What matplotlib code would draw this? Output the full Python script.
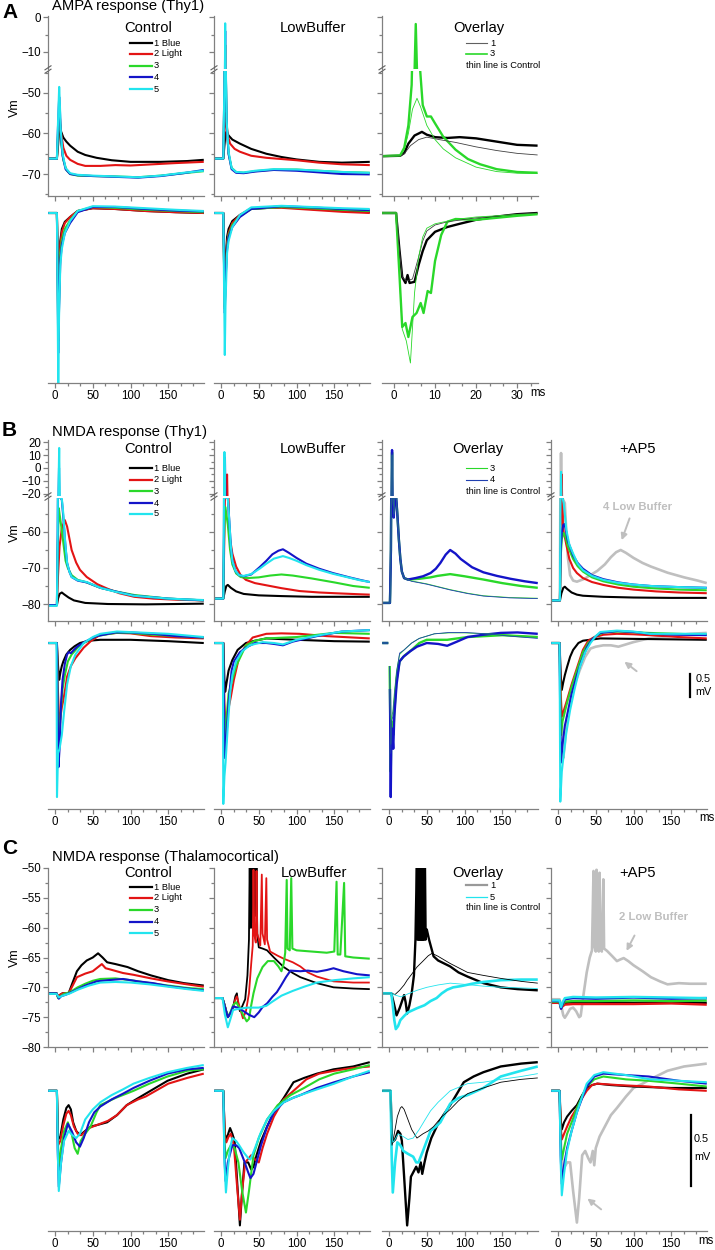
import numpy as np
import matplotlib
matplotlib.use('Agg')
import matplotlib.pyplot as plt
from matplotlib.lines import Line2D
from matplotlib.ticker import MultipleLocator

plt.rcParams['font.family'] = ['Liberation Sans', 'DejaVu Sans']

nan = np.nan

# ---------------- A: AMPA response (Thy1) ----------------
# top row, Vm (ms, mV)
a_ctl_1 = [(-9, -66.2), (2.5, -66.2), (4, -63), (5.5, -59), (6.5, -57.5), (8, -59.5), (11, -61), (15, -62), (20, -63), (30, -64.5), (40, -65.3), (55, -66), (75, -66.6), (100, -67), (140, -67), (175, -66.8), (197, -66.5)]
a_ctl_2 = [(-9, -66.2), (2.5, -66.2), (4, -61), (5.5, -56.5), (6.5, -56), (8, -60), (11, -63.5), (15, -65.5), (20, -66.5), (30, -67.5), (40, -68), (60, -68), (80, -67.8), (100, -67.9), (130, -67.6), (160, -67.3), (197, -67)]
a_ctl_3 = [(-9, -66.2), (2.5, -66.2), (4, -60), (5.5, -56), (6.5, -57), (8, -62), (11, -66.5), (15, -69), (20, -70), (30, -70.4), (50, -70.5), (80, -70.6), (110, -70.8), (140, -70.4), (170, -69.8), (197, -69.3)]
a_ctl_4 = [(-9, -66.2), (2.5, -66.2), (4, -58), (5.5, -51), (6.3, -53), (7.5, -60), (10, -65.5), (14, -68.8), (20, -70), (30, -70.3), (50, -70.5), (80, -70.7), (110, -70.9), (140, -70.5), (170, -69.8), (197, -69)]
a_ctl_5 = [(-9, -66.2), (2.5, -66.2), (4, -57), (5.5, -48.5), (6.3, -52), (7.5, -59), (10, -65), (14, -68.5), (20, -69.8), (30, -70.2), (50, -70.4), (80, -70.6), (110, -70.8), (140, -70.4), (170, -69.7), (197, -69.2)]

a_lb_1 = [(-9, -66.2), (3, -66.2), (4.5, -63), (6, -60), (7.5, -59.5), (10, -60.5), (15, -61.5), (25, -62.5), (40, -63.8), (60, -65), (80, -65.8), (100, -66.4), (130, -67), (160, -67.2), (197, -67)]
a_lb_2 = [(-9, -66.2), (3, -66.2), (4.5, -60), (6, -55), (7, -57), (9, -60.5), (12, -62.5), (18, -63.8), (25, -64.5), (40, -65.5), (60, -66), (100, -66.6), (130, -67.2), (160, -67.6), (197, -67.8)]
a_lb_3 = [(-9, -66.2), (3, -66.2), (4.5, -50), (5.5, -8), (6.3, -45), (7.5, -58), (10, -65), (14, -68.5), (20, -69.5), (30, -69.7), (45, -69.3), (70, -68.9), (100, -68.9), (130, -69.2), (160, -69.5), (197, -69.7)]
a_lb_4 = [(-9, -66.2), (3, -66.2), (4.5, -48), (5.5, -4), (6.3, -44), (7.5, -58), (10, -65), (14, -68.8), (20, -69.7), (30, -69.8), (45, -69.4), (70, -69), (100, -69.2), (130, -69.6), (160, -70), (197, -70.1)]
a_lb_5 = [(-9, -66.2), (3, -66.2), (4.5, -47), (5.5, -1.8), (6.3, -43), (7.5, -57), (10, -64.5), (14, -68.5), (20, -69.5), (30, -69.6), (45, -69.2), (70, -68.8), (100, -68.9), (130, -69.2), (160, -69.5), (197, -69.7)]

a_ov_lb1 = [(-3, -65.6), (1.5, -65.5), (2.5, -64.8), (3.5, -62.5), (5, -60.5), (6.8, -59.6), (8, -60.3), (10, -60.9), (13, -61.1), (16, -60.9), (20, -61.2), (25, -62), (30, -62.8), (35, -63)]
a_ov_lb3 = [(-3, -65.6), (1.5, -65.4), (2.5, -63.5), (3.5, -58), (4.3, -48), (5.3, -2), (6.2, -42), (7, -53), (8, -55.8), (9, -55.8), (10, -57.5), (12, -60.8), (15, -64), (18, -66.3), (21, -67.6), (25, -68.8), (30, -69.5), (35, -69.7)]
a_ov_ct1 = [(-3, -65.6), (1.5, -65.5), (2.5, -65), (4, -63), (6, -61.5), (8, -60.9), (11, -61.5), (15, -62.2), (20, -63.3), (25, -64.2), (30, -64.9), (35, -65.3)]
a_ov_ct3 = [(-3, -65.6), (1.5, -65.5), (2.5, -64), (3.5, -60), (4.5, -54), (5.6, -51.3), (6.5, -53.5), (8, -58), (10, -61.5), (12, -63.8), (15, -66), (20, -68.3), (25, -69.4), (30, -69.8), (35, -69.9)]

# bottom row (arbitrary units, baseline 0)
a_ctl_s1 = [(-9, 0), (2.5, 0), (3.5, -1.2), (4.3, -2.3), (5.3, -1.6), (7, -0.7), (9, -0.4), (13, -0.22), (20, -0.1), (30, 0.05), (50, 0.12), (80, 0.1), (120, 0.05), (160, 0.02), (197, 0)]
a_ctl_s2 = [(-9, 0), (2.5, 0), (3.5, -1.4), (4.3, -2.8), (5.3, -1.9), (7, -0.8), (9, -0.48), (13, -0.25), (20, -0.1), (30, 0.05), (50, 0.12), (80, 0.1), (120, 0.05), (160, 0.02), (197, 0)]
a_ctl_s3 = [(-9, 0), (2.5, 0), (3.5, -1.6), (4.3, -3.2), (5.3, -2.2), (7, -1.0), (9, -0.68), (13, -0.4), (20, -0.18), (30, 0.05), (50, 0.15), (80, 0.13), (120, 0.08), (160, 0.05), (197, 0.02)]
a_ctl_s4 = [(-9, 0), (2.5, 0), (3.5, -1.8), (4.3, -3.5), (5.3, -2.4), (7, -1.2), (9, -0.8), (13, -0.5), (20, -0.25), (30, 0.02), (50, 0.15), (80, 0.15), (120, 0.1), (160, 0.06), (197, 0.04)]
a_ctl_s5 = [(-9, 0), (2.5, 0), (3.3, -2.0), (4.3, -4.3), (5.3, -2.6), (7, -1.3), (9, -0.9), (13, -0.5), (20, -0.2), (30, 0.05), (50, 0.17), (80, 0.16), (120, 0.12), (160, 0.08), (197, 0.05)]

a_lb_s1 = [(-9, 0), (3, 0), (4, -1.0), (5, -1.8), (6, -1.2), (8, -0.6), (10, -0.4), (15, -0.2), (25, -0.05), (40, 0.1), (80, 0.15), (120, 0.1), (160, 0.05), (197, 0.02)]
a_lb_s2 = [(-9, 0), (3, 0), (4, -1.2), (5, -2.35), (6, -1.5), (8, -0.75), (10, -0.5), (15, -0.25), (25, -0.05), (40, 0.12), (80, 0.13), (120, 0.08), (160, 0.03), (197, 0)]
a_lb_s3 = [(-9, 0), (3, 0), (4, -1.3), (5, -2.4), (6, -1.6), (8, -0.85), (10, -0.55), (15, -0.3), (25, -0.08), (40, 0.1), (80, 0.15), (120, 0.12), (160, 0.08), (197, 0.05)]
a_lb_s4 = [(-9, 0), (3, 0), (4, -1.3), (5, -2.5), (6, -1.7), (8, -0.9), (10, -0.6), (15, -0.35), (25, -0.1), (40, 0.1), (80, 0.17), (120, 0.14), (160, 0.1), (197, 0.07)]
a_lb_s5 = [(-9, 0), (3, 0), (4, -1.8), (5, -3.55), (6, -2.2), (8, -1.0), (10, -0.7), (15, -0.35), (25, -0.05), (40, 0.14), (80, 0.18), (120, 0.15), (160, 0.12), (197, 0.1)]

a_ov_lb_s1 = [(-3, 0), (0.5, 0), (1.3, -0.9), (2, -1.6), (2.8, -1.75), (3.3, -1.55), (3.8, -1.75), (5, -1.72), (6, -1.3), (7, -0.95), (8, -0.68), (10, -0.47), (13, -0.35), (16, -0.27), (20, -0.17), (25, -0.09), (30, -0.03), (35, 0)]
a_ov_ct_s1 = [(-3, 0), (0.5, 0), (1.3, -0.9), (2, -1.6), (3, -1.7), (4.5, -1.65), (6, -1.1), (7, -0.7), (8, -0.45), (10, -0.3), (13, -0.22), (20, -0.12), (30, -0.03), (35, 0)]
a_ov_lb_s3 = [(-3, 0), (0.5, 0), (1.3, -1.5), (2, -2.85), (2.8, -2.75), (3.5, -3.1), (4.5, -2.6), (5.5, -2.5), (6.5, -2.25), (7.2, -2.5), (8.2, -1.95), (9, -2.0), (10, -1.2), (11.5, -0.55), (13, -0.22), (15, -0.15), (20, -0.17), (25, -0.12), (30, -0.07), (35, -0.03)]
a_ov_ct_s3 = [(-3, 0), (0.5, 0), (1.3, -1.5), (2, -2.9), (3, -3.2), (4, -3.75), (5, -2.0), (6, -1.1), (7, -0.6), (8, -0.38), (10, -0.27), (15, -0.16), (20, -0.1), (30, -0.04), (35, -0.02)]

# ---------------- B: NMDA response (Thy1) ----------------
b_ctl_1 = [(-9, -80.3), (2.5, -80.3), (4, -78.5), (6, -77.2), (9, -76.8), (12, -77.3), (18, -78.2), (25, -79), (40, -79.7), (70, -80), (120, -80.1), (160, -80), (197, -79.9)]
b_ctl_2 = [(-9, -80.3), (2.5, -80.3), (4, -72), (6, -64), (9, -59), (13, -56.7), (16, -58.5), (22, -65), (28, -68.5), (33, -70.5), (42, -72.5), (56, -74.5), (70, -75.8), (85, -77), (105, -78), (130, -78.5), (160, -78.8), (197, -79)]
b_ctl_3 = [(-9, -80.3), (2.5, -80.3), (3.5, -65), (5, -53.4), (6, -55), (8, -58), (11, -63), (14, -68), (17, -70), (22, -72), (30, -73.3), (42, -74), (60, -75.5), (80, -76.5), (105, -77.5), (150, -78.5), (197, -79)]
b_ctl_4 = [(-9, -80.3), (2.5, -80.3), (3.5, -60), (4.5, -30), (5.3, 0), (6, -35), (7, -50.5), (9, -51), (11, -56), (14, -64.5), (16, -68.6), (19, -71), (22, -72.5), (30, -73.5), (42, -74), (60, -75.5), (80, -76.5), (105, -77.7), (150, -78.5), (197, -79)]
b_ctl_5 = [(-9, -80.5), (2.5, -80.5), (3.5, -60), (4.5, -20), (5.5, 15.4), (6.3, -20), (7, -50.5), (9, -50.8), (11, -55), (13.5, -63), (16, -68.6), (19, -71), (22, -72.5), (30, -73.4), (42, -73.9), (60, -75.5), (80, -76.6), (104, -77.7), (150, -78.5), (197, -78.9)]

b_lb_1 = [(-9, -78.5), (3, -78.5), (5, -76.5), (7, -75), (9, -74.7), (13, -75.5), (20, -76.5), (30, -77.2), (50, -77.6), (80, -77.8), (120, -78), (160, -78), (197, -78)]
b_lb_2 = [(-9, -78.5), (3, -78.5), (4.5, -60), (6.5, -30), (8, -5), (9, -35), (10.5, -58), (12, -62), (15, -66), (20, -69.6), (26, -72), (33, -73.3), (45, -74.2), (60, -74.8), (80, -75.6), (104, -76.4), (130, -76.8), (150, -77), (184, -77.3), (197, -77.4)]
b_lb_3 = [(-9, -78.5), (3, -78.5), (4, -62), (5.5, -53), (7, -55), (9, -58), (12, -65), (15, -69), (20, -71.5), (26, -72.5), (35, -72.8), (50, -72.6), (65, -72.1), (80, -71.8), (95, -72.1), (120, -72.9), (150, -74), (175, -75), (197, -75.5)]
b_lb_4 = [(-9, -78.5), (3, -78.5), (3.8, -60), (4.5, -20), (5.2, 8), (6, -30), (6.8, -50.5), (9, -50.5), (11, -57), (13, -64), (15, -68), (19, -70.8), (24, -72), (30, -72.3), (40, -71.8), (51, -69.8), (60, -68), (68, -66.2), (76, -65.2), (82, -64.8), (90, -65.8), (100, -67.2), (113, -68.8), (130, -70.2), (148, -71.4), (170, -72.6), (184, -73.3), (197, -73.9)]
b_lb_5 = [(-9, -78.5), (3, -78.5), (3.8, -55), (4.5, 12.3), (5.3, -30), (6, -50.5), (9, -50.6), (11, -57), (13, -64), (15, -68), (19, -70.8), (24, -72), (30, -72.2), (40, -71.7), (51, -70.2), (60, -68.8), (70, -67.4), (82, -66.7), (90, -67.2), (100, -68), (113, -69.2), (130, -70.5), (148, -71.6), (170, -72.7), (184, -73.4), (197, -73.9)]

b_ov_lb4 = [(-9, -79.7), (1.2, -79.7), (1.5, -77), (2.5, -65), (3.2, -40), (4, 13.8), (4.8, -40), (5.3, -50.5), (6.3, -56), (7.5, -50.5), (9.5, -50.5), (11, -55), (13, -62), (15, -67.5), (17, -71), (20, -72.8), (25, -73.2), (35, -72.8), (45, -72.3), (55, -71.4), (62, -70.2), (68, -68.6), (75, -66.3), (81, -65), (88, -66), (95, -67.5), (110, -69.8), (125, -71.2), (143, -72.2), (161, -73), (180, -73.7), (197, -74.2)]
b_ov_lb3 = [(-9, -79.7), (1.2, -79.7), (1.5, -77), (2.5, -65), (3.2, -40), (4, 12), (4.8, -40), (5.3, -50.5), (6.3, -55), (7.5, -50.5), (9.5, -50.5), (11, -55), (13, -62), (15, -67.5), (17, -71), (20, -72.8), (25, -73.2), (40, -73), (55, -72.6), (64, -72.2), (81, -71.7), (100, -72.3), (125, -73.2), (150, -74.2), (175, -75), (197, -75.5)]
b_ov_ct3 = [(-9, -79.7), (1.2, -79.7), (1.5, -77), (2.5, -65), (3.2, -40), (4, 10), (4.8, -40), (5.3, -50.5), (6.3, -55), (7.5, -50.5), (9.5, -50.5), (11, -55), (13, -62), (15, -67.5), (17, -71), (20, -72.8), (30, -73.6), (50, -74.4), (81, -76), (104, -77), (125, -77.7), (160, -78.2), (197, -78.4)]
b_ov_ct4 = [(-9, -79.7), (1.2, -79.7), (1.5, -77), (2.5, -65), (3.2, -40), (4, 11), (4.8, -40), (5.3, -50.5), (6.3, -56), (7.5, -50.5), (9.5, -50.5), (11, -55), (13, -62), (15, -67.5), (17, -71), (20, -72.9), (30, -73.7), (50, -74.5), (81, -76.1), (104, -77.1), (125, -77.8), (160, -78.3), (197, -78.5)]

b_ap5_lb4 = [(-9, -79), (2.5, -79), (3.3, -40), (4, 11.5), (4.8, -40), (5.5, -50.5), (9, -52), (11, -60), (13, -67), (16, -72), (20, -73.5), (25, -73.8), (35, -73), (45, -71.7), (52, -70.8), (62, -69), (70, -67), (77, -65.6), (83, -65), (90, -65.8), (100, -67.2), (112, -68.6), (123, -69.6), (145, -71.3), (167, -72.6), (185, -73.5), (197, -74.2)]
b_ap5_1 = [(-9, -79), (2.5, -79), (4.5, -77), (7, -75.5), (9, -75.2), (12, -75.8), (18, -76.8), (25, -77.4), (33, -77.7), (60, -78), (100, -78.2), (150, -78.3), (197, -78.3)]
b_ap5_2 = [(-9, -79), (2.5, -79), (3.5, -60), (4.5, -30), (5, -5), (5.6, -35), (6.5, -58), (8, -61), (9, -61.4), (11, -63.5), (15, -67.5), (20, -70), (25, -71.4), (33, -72.8), (45, -73.9), (60, -74.7), (80, -75.5), (100, -76), (130, -76.5), (160, -76.8), (197, -77)]
b_ap5_3 = [(-9, -79), (2.5, -79), (3.5, -67), (5, -62), (7, -60.3), (8.5, -60.5), (10, -61.5), (13, -64), (20, -67.5), (26, -69.5), (33, -71), (45, -72.6), (60, -73.7), (80, -74.6), (100, -75.2), (123, -75.6), (160, -76), (197, -76.2)]
b_ap5_4 = [(-9, -79), (2.5, -79), (3.5, -65), (5, -60), (7, -58), (8.5, -57.8), (10, -59), (13, -62.5), (20, -66.5), (26, -68.6), (33, -70.2), (45, -72), (60, -73.1), (80, -74), (100, -74.6), (123, -75), (160, -75.3), (197, -75.5)]
b_ap5_5 = [(-9, -79), (2.5, -79), (3.3, -50), (4, -3), (5, -40), (6, -50.5), (7.5, -52), (9, -55), (11, -59.4), (15, -63.5), (20, -66), (26, -68.8), (33, -70.6), (45, -72.2), (60, -73.3), (80, -74.1), (100, -74.6), (123, -75), (160, -75.3), (197, -75.5)]

# bottom row (mV, baseline 0)
b_ctl_s1 = [(-9, 0), (2.5, 0), (4, -0.5), (5.5, -0.8), (7, -0.65), (9, -0.5), (11, -0.4), (15, -0.25), (20, -0.15), (26, -0.07), (33, 0), (45, 0.05), (60, 0.07), (100, 0.07), (150, 0.04), (197, 0)]
b_ctl_s2 = [(-9, 0), (2.5, 0), (3.5, -0.9), (5, -1.5), (6.7, -1.67), (9, -1.4), (11, -1.24), (13.5, -1.0), (16, -0.73), (21, -0.5), (27, -0.33), (38, -0.1), (48, 0.05), (60, 0.18), (82, 0.22), (100, 0.21), (127, 0.15), (160, 0.12), (197, 0.1)]
b_ctl_s3 = [(-9, 0), (2.5, 0), (3.5, -1.3), (4.5, -2.4), (6, -1.9), (8, -1.4), (10, -1.0), (13, -0.7), (17, -0.4), (22, -0.25), (30, -0.1), (40, 0.02), (55, 0.15), (80, 0.22), (100, 0.22), (130, 0.18), (160, 0.15), (197, 0.12)]
b_ctl_s4 = [(-9, 0), (2.5, 0), (3.5, -1.5), (4.5, -2.7), (6, -2.3), (8, -1.3), (10, -0.8), (13, -0.45), (16, -0.25), (18, -0.2), (21, -0.22), (25, -0.15), (30, -0.07), (40, 0.03), (55, 0.15), (80, 0.23), (100, 0.23), (130, 0.2), (160, 0.15), (197, 0.12)]
b_ctl_s5 = [(-9, 0), (2, 0), (2.6, -3.35), (4, -2.4), (6, -2.3), (9, -2.0), (12, -1.5), (16, -0.9), (21, -0.5), (27, -0.25), (38, 0), (50, 0.13), (60, 0.2), (82, 0.25), (110, 0.23), (150, 0.2), (197, 0.13)]

b_lb_s1 = [(-9, 0), (3, 0), (4.5, -0.8), (5.5, -1.06), (7, -0.9), (10, -0.6), (15, -0.37), (22, -0.15), (33, 0), (45, 0.05), (60, 0.1), (100, 0.07), (150, 0.04), (197, 0.03)]
b_lb_s2 = [(-9, 0), (3, 0), (4.5, -1.3), (6, -1.8), (9, -1.5), (13, -1.17), (17, -0.8), (24, -0.3), (33, -0.05), (42, 0.12), (60, 0.2), (80, 0.21), (104, 0.2), (140, 0.15), (197, 0.1)]
b_lb_s3 = [(-9, 0), (3, 0), (4, -1.3), (5, -2.2), (7, -1.7), (10, -1.1), (15, -0.8), (20, -0.5), (33, -0.05), (45, 0.05), (60, 0.1), (100, 0.13), (150, 0.22), (197, 0.2)]
b_lb_s4 = [(-9, 0), (3, 0), (4, -1.5), (5, -2.5), (7, -2.1), (10, -1.3), (14, -0.6), (17, -0.4), (25, -0.2), (33, -0.1), (45, 0), (60, 0), (70, -0.02), (82, -0.05), (95, 0.03), (127, 0.15), (160, 0.25), (197, 0.28)]
b_lb_s5 = [(-9, 0), (2.5, 0), (3, -3.5), (4.5, -2.9), (6, -2.6), (9, -1.8), (12, -1.1), (15, -0.7), (20, -0.4), (28, -0.18), (38, -0.05), (55, 0.02), (70, 0), (82, -0.03), (100, 0.07), (130, 0.17), (160, 0.25), (197, 0.28)]

b_ov_lb_s4 = [(-9, 0), (-1, 0), (0, nan), (1.2, -1.0), (2.3, -3.35), (3.2, -1.85), (4.5, -2.0), (5.6, -2.3), (7, -1.6), (10, -0.9), (14, -0.4), (19, -0.3), (28, -0.18), (37, -0.08), (50, 0), (65, -0.02), (77, -0.06), (90, 0.03), (104, 0.13), (125, 0.18), (148, 0.22), (170, 0.23), (197, 0.2)]
b_ov_lb_s3 = [(-9, 0), (-1, 0), (0, nan), (0.8, -0.5), (1.5, -1.45), (2.3, -2.8), (3.2, -1.7), (4.5, -1.8), (5.6, -2.0), (7, -1.5), (10, -0.8), (14, -0.4), (20, -0.28), (30, -0.15), (40, 0), (50, 0.07), (65, 0.07), (77, 0.07), (104, 0.13), (150, 0.17), (197, 0.13)]
b_ov_ct_s3 = [(-9, 0), (-1, 0), (0, nan), (0.8, -0.5), (1.5, -1.3), (2.3, -2.2), (3.5, -1.6), (5, -1.5), (7, -1.1), (10, -0.6), (14, -0.25), (20, -0.15), (30, 0), (40, 0.1), (60, 0.2), (80, 0.22), (100, 0.22), (130, 0.2), (160, 0.17), (197, 0.13)]
b_ov_ct_s4 = [(-9, 0), (-1, 0), (0, nan), (0.8, -0.5), (1.5, -1.4), (2.3, -2.4), (3.5, -1.7), (5, -1.6), (7, -1.2), (10, -0.65), (14, -0.22), (20, -0.15), (30, 0), (40, 0.1), (60, 0.2), (80, 0.23), (100, 0.23), (130, 0.2), (160, 0.15), (197, 0.1)]

b_ap5_lb_s4 = [(-9, 0), (2, 0), (4, -1.5), (7, -2.5), (9, -2.2), (12, -1.6), (17, -1.2), (22, -0.9), (29, -0.58), (36, -0.3), (43, -0.12), (50, -0.08), (60, -0.05), (70, -0.05), (80, -0.08), (88, -0.04), (100, 0.02), (120, 0.1), (150, 0.16), (175, 0.2), (197, 0.22)]
b_ap5_s1 = [(-9, 0), (2, 0), (3.5, -0.7), (5, -1.02), (7, -0.85), (9, -0.7), (12, -0.52), (16, -0.3), (20, -0.15), (27, 0), (33, 0.05), (56, 0.1), (100, 0.09), (150, 0.08), (197, 0.07)]
b_ap5_s2 = [(-9, 0), (2, 0), (3.5, -1.1), (5, -1.6), (8, -1.45), (12, -1.24), (18, -0.9), (25, -0.55), (33, -0.15), (40, 0.05), (47, 0.12), (60, 0.18), (78, 0.2), (100, 0.19), (122, 0.17), (160, 0.13), (197, 0.1)]
b_ap5_s3 = [(-9, 0), (2, 0), (3.2, -1.3), (4, -2.0), (6, -1.7), (9, -1.5), (12, -1.3), (18, -0.95), (25, -0.6), (33, -0.2), (40, 0), (50, 0.15), (60, 0.23), (80, 0.25), (120, 0.22), (160, 0.2), (197, 0.18)]
b_ap5_s4 = [(-9, 0), (2, 0), (3, -1.8), (4, -2.6), (6, -2.2), (9, -1.8), (13, -1.5), (18, -1.1), (25, -0.7), (31, -0.4), (38, -0.1), (45, 0.08), (56, 0.22), (78, 0.26), (100, 0.24), (122, 0.2), (160, 0.18), (197, 0.17)]
b_ap5_s5 = [(-9, 0), (2, 0), (3, -3.45), (5, -2.8), (7, -2.5), (11, -1.95), (16, -1.46), (22, -1.0), (29, -0.52), (36, -0.2), (43, 0), (50, 0.15), (56, 0.24), (78, 0.27), (100, 0.25), (122, 0.2), (160, 0.2), (197, 0.2)]

# ---------------- C: NMDA response (Thalamocortical) ----------------
c_ctl_1 = [(-9, -71), (2, -71), (4, -71.6), (6, -71.3), (10, -71), (18, -71), (23, -69.3), (29, -67.3), (35, -66.3), (42, -65.5), (50, -65), (57, -64.3), (63, -65), (69, -65.8), (80, -66.1), (96, -66.6), (110, -67.3), (127, -68), (150, -68.8), (171, -69.3), (197, -69.7)]
c_ctl_2 = [(-9, -71), (2, -71), (4, -71.6), (6, -71.3), (10, -71), (18, -71), (23, -69.8), (29, -68.3), (40, -67.7), (50, -67.3), (57, -66.6), (62, -66.1), (67, -66.8), (73, -67), (90, -67.6), (104, -67.9), (127, -68.5), (149, -69), (175, -69.5), (197, -69.9)]
c_ctl_3 = [(-9, -71), (2, -71), (4, -71.8), (7, -71.5), (12, -71.1), (20, -70.8), (30, -70), (40, -69.4), (50, -68.9), (60, -68.6), (80, -68.5), (100, -68.8), (120, -69.2), (150, -69.7), (175, -70.1), (197, -70.3)]
c_ctl_4 = [(-9, -71), (2, -71), (5, -71.9), (8, -71.5), (15, -71.2), (25, -70.6), (40, -69.7), (55, -69), (70, -68.8), (90, -68.6), (110, -69), (130, -69.3), (150, -69.8), (175, -70.2), (197, -70.5)]
c_ctl_5 = [(-9, -71.1), (2, -71.1), (5, -71.7), (10, -71.4), (20, -71), (30, -70.4), (45, -69.7), (60, -69.2), (80, -69.1), (100, -69.2), (125, -69.5), (150, -69.9), (175, -70.3), (197, -70.6)]

c_lb_1 = [(-9, -71.8), (2, -71.8), (5, -73), (9, -75), (13, -74.3), (16, -73.3), (19, -71.5), (21, -71), (23, -73), (25, -74), (28, -73.2), (32, -72), (35, -68), (37, -62),
          (38, -48), (38.7, -60), (39.5, -48), (40.2, -60), (41, -48), (41.7, -59), (42.5, -48), (43.2, -59), (44, -48), (44.7, -58), (45.5, -48), (46.2, -58), (47, -48),
          (48, -61), (50, -63.3), (55, -63.5), (61, -63.8), (70, -65), (83, -66.6), (95, -67.6), (105, -68.3), (127, -69.3), (149, -70), (175, -70.2), (197, -70.3)]
c_lb_2 = [(-9, -71.8), (2, -71.8), (5, -73), (9, -75), (13, -74.3), (16, -73.5), (19, -72), (21, -71.5), (24, -73), (29, -75.2), (33, -74), (37, -71), (40, -66), (42, -63),
          (43, -50.3), (44, -61), (46, -62.5), (47, -50.5), (48, -61), (52, -63), (54, -51.1), (55, -61), (58, -62.8), (60, -51.7), (61, -62), (65, -64),
          (75, -64.7), (83, -65.2), (95, -65.8), (105, -66.5), (115, -67.5), (127, -68.2), (149, -69), (175, -69.2), (197, -69.2)]
c_lb_3 = [(-9, -71.8), (2, -71.8), (5, -73.2), (9, -75), (13, -74), (16, -73), (20, -72.5), (25, -73.5), (30, -74.8), (34, -75.7), (37, -75.3), (40, -73), (43, -71), (48, -68.5),
          (55, -66.6), (62, -65.6), (70, -65.6), (76, -66.5), (80, -67.3), (83, -66), (85, -64.2), (87, -52), (88, -63.5), (91, -63.8), (93, -51.7), (94.5, -63.5),
          (100, -63.8), (120, -64), (140, -64.2), (150, -64), (153, -52.3), (154.5, -64.5), (158, -64.5), (163, -52.5), (164.5, -64.8), (175, -65), (197, -65.2)]
c_lb_4 = [(-9, -71.8), (2, -71.8), (5, -73.2), (9, -75), (13, -74.2), (16, -73.2), (22, -73.4), (30, -74), (37, -74.6), (44, -75), (50, -74.2), (55, -73.3), (61, -72.7), (68, -71.6),
          (74, -70.8), (79, -69.8), (86, -68.3), (92, -67.2), (105, -67.3), (115, -67.2), (127, -67.4), (140, -67.1), (149, -66.8), (162, -67.3), (180, -67.8), (197, -68)]
c_lb_5 = [(-9, -71.8), (2, -71.8), (5, -74.5), (9, -76.7), (12, -75.5), (16, -73.8), (23, -73.6), (35, -73.4), (50, -73.4), (60, -73.1), (68, -72.4), (80, -71.4), (95, -70.6),
          (110, -69.9), (127, -69.2), (150, -68.8), (175, -68.5), (197, -68.3)]

c_ov_lb1 = [(-9, -71), (3, -71), (6, -72.5), (10, -74.7), (14, -73.5), (17, -72.4), (20, -71.3), (22, -72.5), (24, -74.4), (27, -73), (30, -71), (33, -68), (35, -62),
            (37, -48), (37.7, -62), (38.5, -48), (39.2, -62), (40, -48), (40.7, -62), (41.5, -48), (42.2, -62), (43, -48), (43.7, -62), (44.5, -48), (45.2, -62),
            (46, -48), (46.7, -62), (47.5, -48), (48.5, -62), (50, -60.3), (53, -62), (59, -64.8), (65, -65.5), (81, -66.5), (92, -67.5), (104, -68.2), (125, -69.3),
            (148, -70), (170, -70.3), (197, -70.5)]
c_ov_ct1 = [(-9, -71), (3, -71), (8, -71.2), (14, -70.5), (20, -69.6), (24, -68.8), (30, -67.8), (37, -66.6), (45, -65.6), (52, -64.7), (57, -64.3), (65, -64.8), (81, -66),
            (104, -67.5), (125, -68), (148, -68.5), (175, -69), (197, -69.3)]
c_ov_lb5 = [(-9, -71), (3, -71), (5, -73), (7, -75.5), (9, -77), (12, -76.5), (15, -75.5), (20, -74.8), (25, -74.2), (37, -73.5), (47, -73), (55, -72.3), (63, -71.8), (70, -71),
            (77, -70.4), (85, -70), (95, -69.8), (110, -69.4), (125, -69.1), (148, -68.8), (175, -68.7), (197, -68.7)]
c_ov_ct5 = [(-9, -71), (3, -71), (8, -71.3), (16, -71.6), (25, -71.1), (37, -70.5), (50, -70), (65, -69.6), (81, -69.3), (100, -69.5), (125, -69.8), (150, -70), (175, -70.1), (197, -70.2)]

c_ap5_lb2 = [(-9, -72), (2, -72), (4, -73), (7, -74.7), (9, -75.1), (12, -74.5), (16, -73.6), (20, -73.4), (24, -74), (28, -75), (30, -74.8), (34, -71), (38, -67.5), (42, -65),
             (45, -63.8), (47, -50.5), (48, -63), (50, -64), (51, -50.3), (52, -63.2), (54, -64), (55, -50.8), (56, -63.3), (58, -64), (60, -51.9), (61, -63.5),
             (65, -63.9), (72, -64.8), (78, -65.6), (83, -65.3), (87, -65.1), (93, -65.6), (100, -66.3), (112, -67.3), (123, -68.3), (135, -69), (145, -69.5),
             (160, -69.3), (175, -69.4), (197, -69.4)]
c_ap5_1 = [(-9, -72.5), (2, -72.5), (4, -73.3), (6, -73), (9, -72.6), (20, -72.5), (50, -72.5), (100, -72.6), (150, -72.5), (197, -72.6)]
c_ap5_2 = [(-9, -72.6), (2, -72.6), (4, -73.5), (6, -73.2), (9, -72.9), (20, -72.8), (50, -72.8), (100, -72.8), (150, -72.7), (197, -72.9)]
c_ap5_3 = [(-9, -72.4), (2, -72.4), (4, -73.4), (6, -72.9), (9, -72.4), (20, -72.3), (50, -72.3), (100, -72.2), (150, -72.3), (197, -72.2)]
c_ap5_4 = [(-9, -72.3), (2, -72.3), (4, -73.6), (6, -72.8), (9, -72), (20, -71.8), (50, -71.9), (100, -71.7), (150, -71.9), (197, -71.8)]
c_ap5_5 = [(-9, -72.2), (2, -72.2), (4, -73.3), (6, -72.5), (9, -71.8), (20, -71.6), (50, -71.7), (100, -71.6), (150, -71.7), (197, -71.8)]

c_ctl_s1 = [(-9, 0), (2.5, 0), (4, -0.34), (7, -0.32), (11, -0.2), (15, -0.12), (18, -0.1), (21, -0.13), (24, -0.22), (28, -0.28), (33, -0.31), (40, -0.28), (47, -0.25), (55, -0.24), (69, -0.22), (82, -0.17), (95, -0.1), (104, -0.07), (120, -0.02), (149, 0.07), (175, 0.12), (197, 0.15)]
c_ctl_s2 = [(-9, 0), (2.5, 0), (4, -0.38), (7, -0.35), (11, -0.24), (15, -0.16), (18, -0.14), (21, -0.17), (25, -0.25), (30, -0.3), (35, -0.31), (45, -0.26), (55, -0.24), (70, -0.21), (82, -0.17), (95, -0.1), (110, -0.06), (120, -0.04), (150, 0.05), (175, 0.09), (197, 0.12)]
c_ctl_s3 = [(-9, 0), (2.5, 0), (3.5, -0.3), (5, -0.53), (8, -0.4), (12, -0.28), (17, -0.22), (22, -0.3), (26, -0.4), (30, -0.44), (34, -0.35), (40, -0.3), (47, -0.25), (55, -0.15), (60, -0.1), (68, -0.08), (80, -0.05), (104, 0), (125, 0.05), (149, 0.1), (175, 0.14), (197, 0.15)]
c_ctl_s4 = [(-9, 0), (2.5, 0), (3.5, -0.4), (5, -0.67), (8, -0.5), (12, -0.33), (17, -0.23), (22, -0.28), (28, -0.36), (33, -0.39), (38, -0.33), (45, -0.22), (52, -0.15), (60, -0.11), (75, -0.06), (90, -0.02), (104, 0.02), (125, 0.07), (149, 0.12), (175, 0.15), (197, 0.16)]
c_ctl_s5 = [(-9, 0), (2.5, 0), (3.5, -0.4), (5, -0.7), (8, -0.5), (12, -0.35), (18, -0.28), (23, -0.31), (28, -0.33), (33, -0.3), (40, -0.2), (50, -0.13), (60, -0.08), (75, -0.03), (90, 0.01), (104, 0.05), (125, 0.09), (149, 0.13), (175, 0.16), (197, 0.18)]

c_lb_s1 = [(-9, 0), (3, 0), (5, -0.3), (7, -0.34), (9.5, -0.3), (12, -0.26), (15, -0.3), (18, -0.35), (21, -0.6), (25, -0.94), (28, -0.7), (31, -0.5), (36, -0.5), (40, -0.55), (43, -0.53), (47, -0.45), (53, -0.35), (61, -0.25), (70, -0.15), (83, -0.05), (96, 0.06), (110, 0.09), (127, 0.12), (149, 0.15), (175, 0.17), (197, 0.2)]
c_lb_s2 = [(-9, 0), (3, 0), (5, -0.32), (7, -0.36), (10, -0.32), (13, -0.3), (17, -0.38), (21, -0.65), (25, -0.9), (28, -0.7), (32, -0.5), (40, -0.45), (45, -0.48), (50, -0.5), (55, -0.4), (61, -0.3), (70, -0.18), (83, -0.06), (96, 0), (113, 0.08), (130, 0.12), (150, 0.14), (175, 0.16), (197, 0.17)]
c_lb_s3 = [(-9, 0), (3, 0), (4.5, -0.35), (6, -0.47), (9, -0.42), (13, -0.38), (18, -0.4), (23, -0.5), (28, -0.7), (33, -0.85), (37, -0.7), (43, -0.45), (50, -0.33), (61, -0.2), (75, -0.1), (92, -0.03), (110, 0.02), (130, 0.08), (150, 0.12), (175, 0.15), (197, 0.18)]
c_lb_s4 = [(-9, 0), (3, 0), (4.5, -0.45), (6, -0.63), (9, -0.5), (15, -0.38), (20, -0.38), (24, -0.4), (30, -0.48), (36, -0.57), (39, -0.61), (43, -0.58), (47, -0.5), (53, -0.38), (61, -0.25), (70, -0.15), (83, -0.08), (95, -0.05), (105, -0.03), (127, 0.02), (150, 0.06), (175, 0.1), (197, 0.13)]
c_lb_s5 = [(-9, 0), (3, 0), (4.5, -0.5), (6.5, -0.71), (9, -0.55), (12, -0.4), (15, -0.33), (20, -0.35), (24, -0.38), (30, -0.43), (36, -0.47), (39, -0.48), (45, -0.4), (52, -0.3), (61, -0.2), (70, -0.14), (83, -0.08), (95, -0.05), (105, -0.03), (127, 0.01), (150, 0.05), (175, 0.1), (197, 0.14)]

c_ov_lb_s1 = [(-9, 0), (2, 0), (4, -0.36), (8, -0.34), (12, -0.28), (15, -0.3), (17, -0.35), (20, -0.6), (24, -0.94), (27, -0.75), (29, -0.6), (33, -0.56), (36, -0.53), (39, -0.57), (42, -0.5), (44, -0.58), (47, -0.5), (50, -0.43), (56, -0.33), (64, -0.24), (72, -0.17), (81, -0.1), (90, -0.02), (99, 0.06), (112, 0.1), (125, 0.13), (148, 0.17), (175, 0.19), (197, 0.2)]
c_ov_ct_s1 = [(-9, 0), (2, 0), (4, -0.38), (7, -0.3), (11, -0.18), (15, -0.12), (17, -0.11), (20, -0.13), (25, -0.2), (30, -0.27), (37, -0.33), (45, -0.3), (52, -0.28), (59, -0.25), (70, -0.18), (81, -0.13), (92, -0.07), (104, -0.02), (125, 0.02), (148, 0.06), (175, 0.08), (197, 0.09)]
c_ov_lb_s5 = [(-9, 0), (2, 0), (3.5, -0.45), (5, -0.71), (8, -0.5), (11, -0.36), (15, -0.38), (19, -0.42), (25, -0.44), (32, -0.46), (36, -0.5), (39, -0.5), (45, -0.42), (50, -0.35), (55, -0.28), (62, -0.25), (68, -0.22), (75, -0.15), (81, -0.09), (92, -0.05), (104, -0.03), (125, 0.02), (148, 0.1), (175, 0.14), (197, 0.17)]
c_ov_ct_s5 = [(-9, 0), (2, 0), (3.5, -0.3), (5, -0.36), (8, -0.34), (12, -0.3), (19, -0.32), (25, -0.34), (32, -0.33), (40, -0.27), (48, -0.2), (55, -0.14), (65, -0.08), (81, 0), (104, 0.05), (125, 0.06), (148, 0.08), (175, 0.1), (197, 0.12)]

c_ap5_lb_s2 = [(-9, 0), (2, 0), (4, -0.4), (7, -0.55), (12, -0.5), (16, -0.5), (20, -0.7), (25, -0.92), (28, -0.75), (32, -0.45), (36, -0.42), (40, -0.47), (43, -0.5), (46, -0.42), (48, -0.52), (50, -0.4), (55, -0.32), (60, -0.27), (70, -0.17), (78, -0.12), (90, -0.04), (100, 0.02), (112, 0.05), (122, 0.08), (145, 0.14), (167, 0.17), (197, 0.19)]
c_ap5_s1 = [(-9, 0), (2, 0), (3.5, -0.2), (5, -0.27), (8, -0.22), (12, -0.18), (18, -0.14), (25, -0.1), (32, -0.03), (38, 0.02), (45, 0.04), (52, 0.05), (70, 0.04), (100, 0.03), (150, 0.02), (197, 0.02)]
c_ap5_s2 = [(-9, 0), (2, 0), (3.5, -0.25), (5, -0.34), (8, -0.3), (12, -0.25), (18, -0.18), (25, -0.12), (32, -0.05), (38, 0), (45, 0.04), (52, 0.05), (80, 0.04), (120, 0.03), (160, 0.01), (197, 0)]
c_ap5_s3 = [(-9, 0), (2, 0), (3.5, -0.35), (5, -0.48), (8, -0.4), (12, -0.3), (18, -0.22), (25, -0.12), (32, -0.04), (38, 0.03), (48, 0.08), (60, 0.1), (90, 0.08), (120, 0.07), (160, 0.05), (197, 0.03)]
c_ap5_s4 = [(-9, 0), (2, 0), (3.5, -0.45), (5, -0.65), (8, -0.52), (12, -0.4), (18, -0.28), (25, -0.15), (32, -0.05), (38, 0.03), (48, 0.1), (60, 0.12), (90, 0.11), (120, 0.1), (160, 0.07), (197, 0.05)]
c_ap5_s5 = [(-9, 0), (2, 0), (3.5, -0.5), (5, -0.73), (8, -0.58), (12, -0.42), (18, -0.28), (25, -0.15), (32, -0.04), (38, 0.05), (48, 0.11), (60, 0.13), (90, 0.11), (122, 0.08), (160, 0.07), (197, 0.06)]

legend_labels = ['1 Blue', '2 Light', '3', '4', '5']

# ---------------- figure ----------------
K, R, G, B, C = '#000000', '#e31414', '#2ad82a', '#1414c8', '#22e4ee'
GR = '#bfbfbf'
AXC = '#808080'
TRACE_COLORS = [K, R, G, B, C]
THICK, THIN = 1.5, 0.6

W, H = 715, 1250
fig = plt.figure(figsize=(W / 100, H / 100), dpi=100)

COL_X = [48, 214, 382, 551]
COL_W = 156
LONG_X = (-9.3, 197.3)
SHORT_X = (-2.93, 35.1)


def add_box(x0, y0, x1, y1):
    return fig.add_axes([x0 / W, 1 - y1 / H, (x1 - x0) / W, (y1 - y0) / H])


def fx(x):
    return x / W


def fy(y):
    return 1 - y / H


def plot_trace(ax, pts, color, lw=THICK, z=2):
    a = np.array(pts, dtype=float)
    ax.plot(a[:, 0], a[:, 1], color=color, lw=lw, zorder=z,
            solid_joinstyle='round', solid_capstyle='butt')


def style(ax, xlim, ylim, left=True, bottom=True, ylabels=False, xlabels=False,
          ymaj=10, ymin=5, short=False):
    ax.set_xlim(*xlim)
    ax.set_ylim(*ylim)
    ax.patch.set_visible(False)
    for s in ('top', 'right'):
        ax.spines[s].set_visible(False)
    ax.spines['left'].set_visible(left)
    ax.spines['bottom'].set_visible(bottom)
    for s in ('left', 'bottom'):
        ax.spines[s].set_color(AXC)
        ax.spines[s].set_linewidth(0.9)
    if short:
        ax.xaxis.set_major_locator(MultipleLocator(10))
        ax.xaxis.set_minor_locator(MultipleLocator(10 / 3))
    else:
        ax.xaxis.set_major_locator(MultipleLocator(50))
        ax.xaxis.set_minor_locator(MultipleLocator(50 / 3))
    ax.yaxis.set_major_locator(MultipleLocator(ymaj))
    ax.yaxis.set_minor_locator(MultipleLocator(ymin))
    ax.tick_params(which='both', direction='out', color=AXC, width=0.9,
                   labelsize=8.3, pad=1.2, labelcolor='black')
    ax.tick_params(which='major', length=3.5)
    ax.tick_params(which='minor', length=2)
    ax.tick_params(axis='y', which='both', left=left, labelleft=ylabels and left)
    ax.tick_params(axis='x', which='both', bottom=bottom, labelbottom=xlabels and bottom)


def break_marks(x0, ymid):
    for dy in (-2.2, 1.2):
        fig.add_artist(Line2D([fx(x0 - 3), fx(x0 + 3)], [fy(ymid + dy + 2), fy(ymid + dy - 2)],
                              color='#606060', lw=0.8))


def ctl_legend(x0, rows, labels, colors, lw=1.6):
    for yy, lab, col in zip(rows, labels, colors):
        fig.add_artist(Line2D([fx(x0 + 82), fx(x0 + 104)], [fy(yy), fy(yy)], color=col, lw=lw))
        fig.text(fx(x0 + 106), fy(yy), lab, fontsize=6.7, va='center', ha='left')


def ov_legend(rows, labels, colors, widths):
    for yy, lab, col, lw in zip(rows[:2], labels, colors, widths):
        fig.add_artist(Line2D([fx(466), fx(487)], [fy(yy), fy(yy)], color=col, lw=lw))
        fig.text(fx(490), fy(yy), lab, fontsize=6.7, va='center', ha='left')
    fig.text(fx(466), fy(rows[2]), 'thin line is Control', fontsize=6.7, va='center', ha='left')


def col_title(x, y, s):
    fig.text(fx(x), fy(y), s, fontsize=10.6, ha='center', va='center')


# ===== A =====
fig.text(fx(2), fy(13), 'A', fontsize=15, fontweight='bold', va='center', ha='left')
fig.text(fx(52), fy(6), 'AMPA response (Thy1)', fontsize=10.6, va='center', ha='left')
fig.text(fx(15), fy(108), 'Vm', fontsize=9, rotation=90, va='center', ha='center')

a_top = [
    [(a_ctl_1, K, THICK), (a_ctl_2, R, THICK), (a_ctl_3, G, THICK), (a_ctl_4, B, THICK), (a_ctl_5, C, THICK)],
    [(a_lb_1, K, THICK), (a_lb_2, R, THICK), (a_lb_3, G, THICK), (a_lb_4, B, THICK), (a_lb_5, C, THICK)],
    [(a_ov_lb1, K, 1.7), (a_ov_lb3, G, 1.7), (a_ov_ct1, '#404040', THIN), (a_ov_ct3, G, THIN)],
]
a_bot = [
    [(a_ctl_s1, K, THICK), (a_ctl_s2, R, THICK), (a_ctl_s3, G, THICK), (a_ctl_s4, B, THICK), (a_ctl_s5, C, THICK)],
    [(a_lb_s1, K, THICK), (a_lb_s2, R, THICK), (a_lb_s3, G, THICK), (a_lb_s4, B, THICK), (a_lb_s5, C, THICK)],
    [(a_ov_lb_s1, K, 1.7), (a_ov_lb_s3, G, 1.7), (a_ov_ct_s1, '#404040', THIN), (a_ov_ct_s3, G, THIN)],
]
for i in range(3):
    x0 = COL_X[i]
    xl = SHORT_X if i == 2 else LONG_X
    up = add_box(x0, 16, x0 + COL_W, 69)
    lo = add_box(x0, 71, x0 + COL_W, 196)
    bot = add_box(x0, 200, x0 + COL_W, 383)
    for pts, col, lw in a_top[i]:
        plot_trace(up, pts, col, lw)
        plot_trace(lo, pts, col, lw)
    for pts, col, lw in a_bot[i]:
        plot_trace(bot, pts, col, lw)
    style(up, xl, (-14.86, 0.29), bottom=False, ylabels=(i == 0), short=(i == 2))
    style(lo, xl, (-75.43, -44.57), ylabels=(i == 0), short=(i == 2))
    style(bot, xl, (-4.25, 0.325), left=False, xlabels=True, ymaj=1, ymin=0.5, short=(i == 2))
    break_marks(x0, 70)
fig.text(fx(538), fy(393), 'ms', fontsize=8.3, ha='center', va='center')
col_title(148, 28, 'Control')
col_title(313, 28, 'LowBuffer')
col_title(479, 28, 'Overlay')
ctl_legend(COL_X[0], [43, 54, 66, 77, 89], legend_labels, TRACE_COLORS)
ov_legend([43, 54, 66], ['1', '3'], ['#606060', G], [0.8, 1.2])

# ===== B =====
fig.text(fx(2), fy(431), 'B', fontsize=15, fontweight='bold', va='center', ha='left')
fig.text(fx(52), fy(432), 'NMDA response (Thy1)', fontsize=10.6, va='center', ha='left')
fig.text(fx(15), fy(533), 'Vm', fontsize=9, rotation=90, va='center', ha='center')

b_top = [
    [(b_ctl_1, K, THICK), (b_ctl_2, R, THICK), (b_ctl_3, G, THICK), (b_ctl_4, B, THICK), (b_ctl_5, C, THICK)],
    [(b_lb_1, K, THICK), (b_lb_2, R, THICK), (b_lb_3, G, THICK), (b_lb_4, B, THICK), (b_lb_5, C, THICK)],
    [(b_ov_lb3, G, 1.7), (b_ov_lb4, B, 1.7), (b_ov_ct3, G, THIN), (b_ov_ct4, '#2040b0', THIN)],
    [(b_ap5_lb4, GR, 1.9), (b_ap5_1, K, THICK), (b_ap5_2, R, THICK), (b_ap5_3, G, THICK), (b_ap5_4, B, THICK), (b_ap5_5, C, THICK)],
]
b_bot = [
    [(b_ctl_s1, K, THICK), (b_ctl_s2, R, THICK), (b_ctl_s3, G, THICK), (b_ctl_s4, B, THICK), (b_ctl_s5, C, THICK)],
    [(b_lb_s1, K, THICK), (b_lb_s2, R, THICK), (b_lb_s3, G, THICK), (b_lb_s4, B, THICK), (b_lb_s5, C, THICK)],
    [(b_ov_lb_s3, G, 1.7), (b_ov_lb_s4, B, 1.7), (b_ov_ct_s3, G, THIN), (b_ov_ct_s4, '#2040b0', THIN)],
    [(b_ap5_lb_s4, GR, 1.9), (b_ap5_s1, K, THICK), (b_ap5_s2, R, THICK), (b_ap5_s3, G, THICK), (b_ap5_s4, B, THICK), (b_ap5_s5, C, THICK)],
]
b_axes = []
for i in range(4):
    x0 = COL_X[i]
    up = add_box(x0, 440, x0 + COL_W, 496)
    lo = add_box(x0, 498, x0 + COL_W, 621)
    bot = add_box(x0, 626, x0 + COL_W, 809)
    for pts, col, lw in b_top[i]:
        plot_trace(up, pts, col, lw)
        plot_trace(lo, pts, col, lw)
    for pts, col, lw in b_bot[i]:
        plot_trace(bot, pts, col, lw)
    style(up, LONG_X, (-21.54, 21.54), bottom=False, ylabels=(i == 0))
    style(lo, LONG_X, (-84.72, -50.56), ylabels=(i == 0))
    style(bot, LONG_X, (-3.61, 0.37), left=False, xlabels=True, ymaj=1, ymin=0.5)
    break_marks(x0, 497)
    b_axes.append((up, lo, bot))
fig.text(fx(707), fy(818), 'ms', fontsize=8.3, ha='center', va='center')
col_title(148, 449, 'Control')
col_title(313, 449, 'LowBuffer')
col_title(478, 449, 'Overlay')
col_title(637, 449, '+AP5')
ctl_legend(COL_X[0], [468, 480, 491, 503, 514], legend_labels, TRACE_COLORS)
ov_legend([468, 480, 491], ['3', '4'], [G, '#2040b0'], [0.8, 0.8])

lo4, bot4 = b_axes[3][1], b_axes[3][2]
lo4.annotate('', xy=(83, -63), xytext=(96, -55.5),
             arrowprops=dict(arrowstyle='-|>', color=GR, lw=1.4, mutation_scale=9))
lo4.text(105, -53, '4 Low Buffer', color=GR, fontsize=8.2, fontweight='bold', ha='center', va='center')
bot4.annotate('', xy=(85, -0.37), xytext=(107, -0.65),
              arrowprops=dict(arrowstyle='-|>', color=GR, lw=1.4, mutation_scale=9))
bot4.plot([175, 175], [-0.67, -1.17], color='black', lw=1.6, clip_on=False)
bot4.text(182, -0.78, '0.5', fontsize=7.8, ha='left', va='center')
bot4.text(182, -1.07, 'mV', fontsize=7.8, ha='left', va='center')

# ===== C =====
fig.text(fx(2), fy(848), 'C', fontsize=15, fontweight='bold', va='center', ha='left')
fig.text(fx(52), fy(857), 'NMDA response (Thalamocortical)', fontsize=10.6, va='center', ha='left')
fig.text(fx(15), fy(958), 'Vm', fontsize=9, rotation=90, va='center', ha='center')

c_top = [
    [(c_ctl_1, K, THICK), (c_ctl_2, R, THICK), (c_ctl_3, G, THICK), (c_ctl_4, B, THICK), (c_ctl_5, C, THICK)],
    [(c_lb_1, K, 1.3), (c_lb_2, R, 1.3), (c_lb_3, G, THICK), (c_lb_4, B, THICK), (c_lb_5, C, THICK)],
    [(c_ov_lb1, K, 1.7), (c_ov_lb5, C, 1.9), (c_ov_ct1, K, THIN), (c_ov_ct5, C, THIN)],
    [(c_ap5_lb2, GR, 1.9), (c_ap5_1, K, 1.7), (c_ap5_2, R, 1.7), (c_ap5_3, G, 1.7), (c_ap5_4, B, 1.7), (c_ap5_5, C, 1.7)],
]
c_bot = [
    [(c_ctl_s1, K, THICK), (c_ctl_s2, R, THICK), (c_ctl_s3, G, THICK), (c_ctl_s4, B, THICK), (c_ctl_s5, C, THICK)],
    [(c_lb_s1, K, THICK), (c_lb_s2, R, THICK), (c_lb_s3, G, THICK), (c_lb_s4, B, THICK), (c_lb_s5, C, THICK)],
    [(c_ov_lb_s1, K, 1.7), (c_ov_lb_s5, C, 1.9), (c_ov_ct_s1, K, THIN), (c_ov_ct_s5, C, THIN)],
    [(c_ap5_lb_s2, GR, 1.9), (c_ap5_s1, K, THICK), (c_ap5_s2, R, THICK), (c_ap5_s3, G, THICK), (c_ap5_s4, B, THICK), (c_ap5_s5, C, THICK)],
]
c_axes = []
for i in range(4):
    x0 = COL_X[i]
    top = add_box(x0, 868, x0 + COL_W, 1047)
    bot = add_box(x0, 1049, x0 + COL_W, 1231)
    for pts, col, lw in c_top[i]:
        plot_trace(top, pts, col, lw)
    for pts, col, lw in c_bot[i]:
        plot_trace(bot, pts, col, lw)
    style(top, LONG_X, (-80, -50), ylabels=(i == 0), ymaj=5, ymin=2.5)
    style(bot, LONG_X, (-0.979, 0.292), left=False, xlabels=True, ymaj=1, ymin=0.5)
    c_axes.append((top, bot))
fig.text(fx(706), fy(1241), 'ms', fontsize=8.3, ha='center', va='center')
col_title(148, 873, 'Control')
col_title(314, 873, 'LowBuffer')
col_title(478, 873, 'Overlay')
col_title(637, 873, '+AP5')
ctl_legend(COL_X[0], [887, 898, 910, 922, 933], legend_labels, TRACE_COLORS)
ov_legend([885, 897, 908], ['1', '5'], ['#999999', C], [1.6, 0.9])

top4, cbot4 = c_axes[3]
top4.annotate('', xy=(89, -64.3), xytext=(103, -60.9),
              arrowprops=dict(arrowstyle='-|>', color=GR, lw=1.4, mutation_scale=9))
top4.text(127, -58.2, '2 Low Buffer', color=GR, fontsize=8.2, fontweight='bold', ha='center', va='center')
cbot4.annotate('', xy=(36, -0.74), xytext=(60, -0.84),
               arrowprops=dict(arrowstyle='-|>', color=GR, lw=1.4, mutation_scale=9))
cbot4.plot([176, 176], [-0.167, -0.667], color='black', lw=1.6, clip_on=False)
cbot4.text(180, -0.34, '0.5', fontsize=7.8, ha='left', va='center')
cbot4.text(180, -0.46, 'mV', fontsize=7.8, ha='left', va='center')

fig.savefig('out.png', dpi=100)
